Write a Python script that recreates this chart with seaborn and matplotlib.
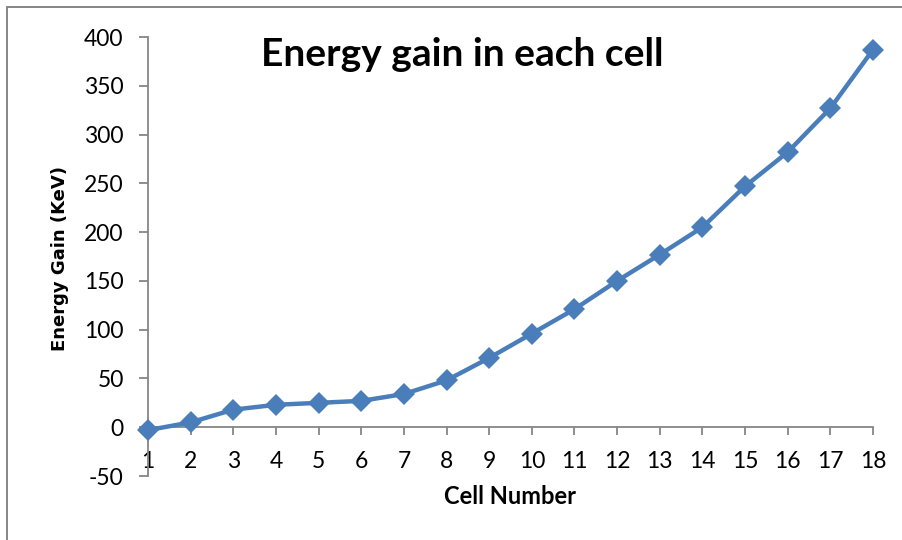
import matplotlib
matplotlib.use("Agg")
import matplotlib.pyplot as plt
import seaborn as sns
import pandas as pd
from matplotlib.patches import Rectangle

cells = list(range(1, 19))
energy_gain = [-3, 5, 18, 23, 25, 27, 34, 48, 71, 96, 121, 150, 177, 205, 247, 282, 327, 387]
y_ticks = [-50, 0, 50, 100, 150, 200, 250, 300, 350, 400]

title = "Energy gain in each cell"
x_label = "Cell Number"
y_label = "Energy Gain (KeV)"

sns.set_theme(style="white")
plt.rcParams['font.family'] = ['Lato', 'DejaVu Sans']
plt.rcParams['axes.unicode_minus'] = False
plt.rcParams['text.color'] = 'black'
plt.rcParams['xtick.labelcolor'] = 'black'
plt.rcParams['ytick.labelcolor'] = 'black'

df = pd.DataFrame({"cell": cells, "gain": energy_gain})

fig = plt.figure(figsize=(9.03, 5.40), dpi=100)
ax = fig.add_axes([148/903, 1-476/540, (873-148)/903, (476-37)/540])

sns.lineplot(data=df, x="cell", y="gain", ax=ax, color="#4A7EBB",
             linewidth=3.2, marker="D", markersize=11, markeredgewidth=0,
             markeredgecolor="#4A7EBB", clip_on=False, zorder=5)

ax.set_xlim(1, 18)
ax.set_ylim(-50, 400)
ax.set_yticks(y_ticks)
ax.set_xticks(cells)
ax.set_xticklabels([str(c) for c in cells])

for s in ["top", "right"]:
    ax.spines[s].set_visible(False)
ax.spines["bottom"].set_position(("data", 0))
for s in ["bottom", "left"]:
    ax.spines[s].set_color("#868686")
    ax.spines[s].set_linewidth(1.3)

ax.tick_params(axis="y", which="both", left=True, length=6.5, width=1.3,
               color="#868686", labelsize=16.5, pad=11, direction="out",
               labelcolor="black")
ax.tick_params(axis="x", which="both", bottom=True, length=6, width=1.3,
               color="#868686", labelsize=16.5, pad=11, direction="out",
               labelcolor="black")

ax.set_xlabel("")
ax.set_ylabel("")
fig.text(510/903, 1-496/540, x_label, ha="center", va="center",
         fontsize=17, fontweight="bold", color="black")
fig.text(60/903, 1-258/540, y_label, ha="center", va="center",
         fontsize=13, fontweight="bold", rotation=90, family="DejaVu Sans",
         color="black")
fig.text(462/903, 1-55/540, title, ha="center", va="center",
         fontsize=28, fontweight="bold", color="black")

fig.patches.append(Rectangle((7/903, -0.01), 1.0, 1 - 7/540 + 0.01,
                             transform=fig.transFigure, fill=False,
                             edgecolor="#868686", linewidth=1.4))

fig.savefig("out.png", dpi=100)
